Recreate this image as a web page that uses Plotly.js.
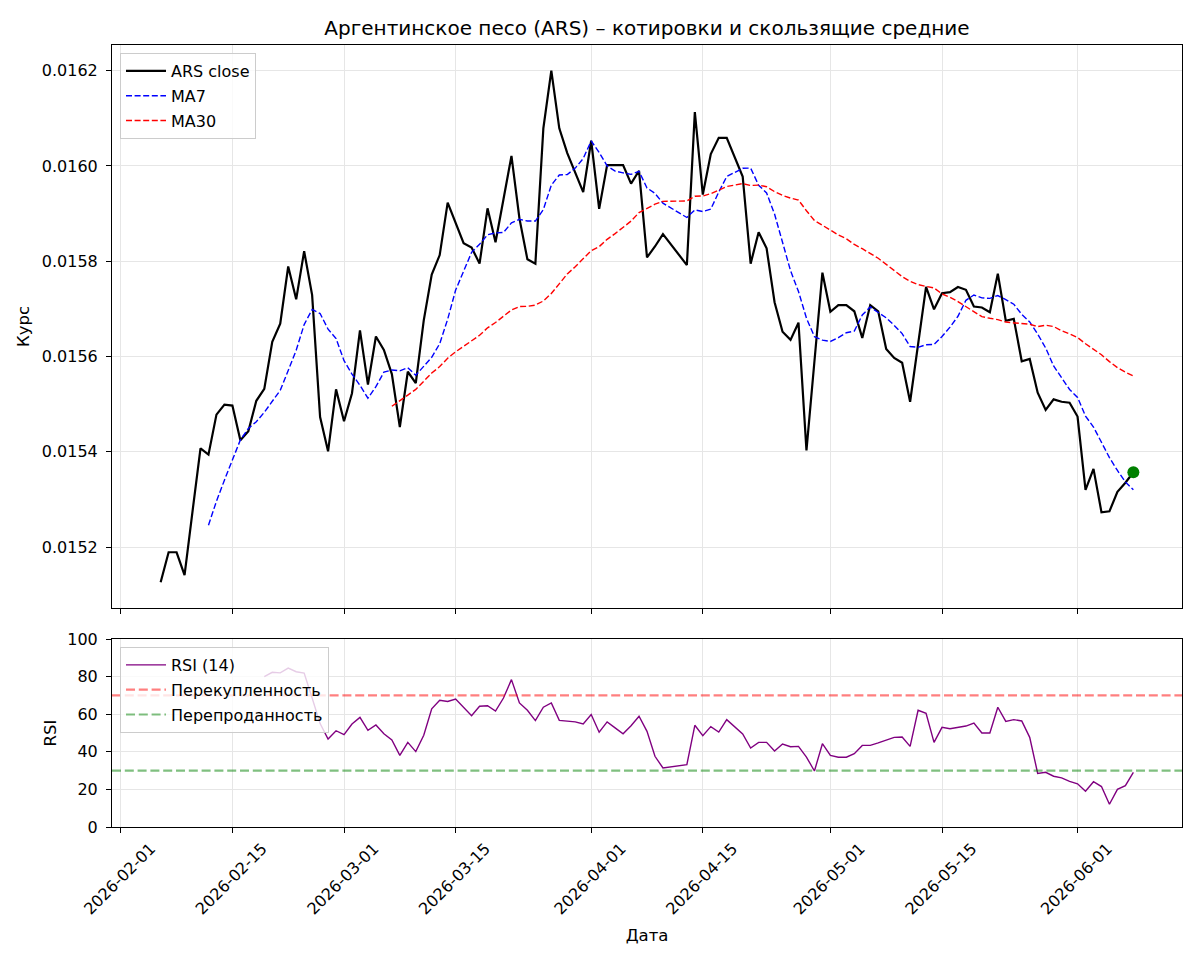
<!DOCTYPE html>
<html>
<head>
<meta charset="utf-8">
<script src="https://cdn.plot.ly/plotly-3.0.1.min.js"></script>
<style>
  body { margin: 0; background: #fff; }
  #chart { width: 1200px; height: 960px; }
</style>
</head>
<body>
<div id="chart"></div>
<script>
// daily ARS quotes from 2026-02-06 to 2026-06-08, a few days have no quote
var startDate = '2026-02-06';
var endDate = '2026-06-08';
var missingDays = ['2026-04-11', '2026-04-12', '2026-04-19'];

var closeFeb = [0.015126, 0.015189, 0.015189, 0.015141, 0.015275, 0.015407, 0.015394, 0.015478,
  0.015499, 0.015497, 0.015424, 0.015443, 0.015507, 0.015532, 0.015631, 0.015669, 0.015789,
  0.015720, 0.015821, 0.015729, 0.015473, 0.015401, 0.015531];
var closeMar = [0.015464, 0.015523, 0.015655, 0.015541, 0.015642, 0.015614, 0.015563, 0.015452,
  0.015568, 0.015544, 0.015676, 0.015772, 0.015813, 0.015923, 0.015880, 0.015838, 0.015829,
  0.015795, 0.015911, 0.015840, 0.015930, 0.016021, 0.015890, 0.015804, 0.015795, 0.016079,
  0.016200, 0.016079, 0.016027, 0.015985, 0.015945];
var closeApr = [0.016053, 0.015910, 0.016002, 0.016002, 0.016002, 0.015963, 0.015990, 0.015808,
  0.015831, 0.015857, 0.015792, 0.016113, 0.015940, 0.016025, 0.016059, 0.016059,
  0.015978, 0.015795, 0.015861, 0.015827, 0.015714, 0.015652, 0.015635,
  0.015671, 0.015403, 0.015590, 0.015776];
var closeMay = [0.015694, 0.015708, 0.015708, 0.015695, 0.015639, 0.015708, 0.015695, 0.015616,
  0.015597, 0.015587, 0.015505, 0.015627, 0.015746, 0.015699, 0.015733, 0.015735, 0.015746,
  0.015740, 0.015705, 0.015703, 0.015693, 0.015774, 0.015675, 0.015679, 0.015590, 0.015595,
  0.015524, 0.015488, 0.015510, 0.015505, 0.015503];
var closeJun = [0.015474, 0.015320, 0.015364, 0.015273, 0.015275, 0.015316, 0.015335, 0.015357];

// RSI(14) as drawn, starting at the 14th quote (2026-02-19)
var rsiStart = 13;
var rsiFeb = [80.0, 82.3, 82.0, 84.5, 82.6, 81.9, 68.6, 55.0, 46.8, 51.2];
var rsiMar = [49.1, 54.8, 58.3, 51.4, 54.3, 49.6, 46.3, 38.1, 45.0, 40.1, 48.8, 62.9, 67.4, 66.8,
  68.1, 63.7, 59.2, 64.2, 64.5, 61.7, 68.6, 78.4, 66.0, 62.1, 56.6, 63.7, 66.0, 56.7, 56.4, 55.9, 54.8];
var rsiApr = [59.8, 50.4, 55.9, 52.7, 49.6, 53.9, 58.9, 50.9, 37.6, 31.4, 33.2, 54.1,
  48.6, 53.4, 50.5, 57.1, 49.5, 42.0, 45.0, 45.0, 40.4, 44.1, 42.7, 42.9, 37.2, 29.8, 44.3];
var rsiMay = [38.1, 37.1, 37.1, 39.0, 43.4, 43.4, 44.7, 46.1, 47.7, 47.9, 42.9, 62.1, 60.5, 45.0,
  53.0, 52.3, 53.2, 53.7, 55.3, 50.0, 50.0, 63.7, 56.2, 57.1, 56.4, 47.7, 28.5, 29.1, 27.0, 26.1, 24.3];
var rsiJun = [23.0, 19.0, 24.1, 21.5, 12.1, 20.0, 22.0, 29.1];

var overbought = 70;
var oversold = 30;

var tickDates = ['2026-02-01', '2026-02-15', '2026-03-01', '2026-03-15', '2026-04-01',
  '2026-04-15', '2026-05-01', '2026-05-15', '2026-06-01'];

var close = closeFeb.concat(closeMar, closeApr, closeMay, closeJun);
var rsi = rsiFeb.concat(rsiMar, rsiApr, rsiMay, rsiJun);

// calendar days with a quote
var dates = [];
var t = new Date(startDate + 'T00:00:00Z').getTime();
var tEnd = new Date(endDate + 'T00:00:00Z').getTime();
while (t <= tEnd) {
  var ds = new Date(t).toISOString().slice(0, 10);
  if (missingDays.indexOf(ds) < 0) dates.push(ds);
  t += 86400000;
}

function rollingMean(arr, n) {
  return arr.map(function (v, i) {
    if (i < n - 1) return null;
    var s = 0;
    for (let k = i - n + 1; k <= i; k++) s += arr[k];
    return s / n;
  });
}

var ma7 = rollingMean(close, 7);
var ma30 = rollingMean(close, 30);

var font = 'DejaVu Sans, sans-serif';

var traceClose = {
  x: dates, y: close, type: 'scatter', mode: 'lines', name: 'ARS close',
  line: { color: 'black', width: 2.2 }, legend: 'legend', legendgroup: 'c'
};
var traceMa7 = {
  x: dates, y: ma7, type: 'scatter', mode: 'lines', name: 'MA7',
  line: { color: 'blue', width: 1.4, dash: '6px,2.6px' }, legend: 'legend', legendgroup: 'm7'
};
var traceMa30 = {
  x: dates, y: ma30, type: 'scatter', mode: 'lines', name: 'MA30',
  line: { color: 'red', width: 1.4, dash: '6px,2.6px' }, legend: 'legend', legendgroup: 'm30'
};
var traceLast = {
  x: [dates[dates.length - 1]], y: [close[close.length - 1]], type: 'scatter', mode: 'markers',
  marker: { color: 'green', size: 12 }, showlegend: false
};
var traceRsi = {
  x: dates.slice(rsiStart), y: rsi, type: 'scatter', mode: 'lines', name: 'RSI (14)',
  line: { color: 'purple', width: 1.4 }, xaxis: 'x2', yaxis: 'y2',
  legend: 'legend2', legendgroup: 'r'
};

var xRange = ['2026-01-30 21:36', '2026-06-14 02:24'];
var axisCommon = {
  showline: true, linecolor: 'black', linewidth: 1, mirror: true,
  ticks: 'outside', ticklen: 5, tickcolor: 'black', tickwidth: 1,
  showgrid: true, gridcolor: '#e6e6e6', gridwidth: 1, zeroline: false,
  tickfont: { family: font, size: 16, color: 'black' }
};
var labelFont = { family: font, size: 16.5, color: 'black' };
var legendCommon = {
  xanchor: 'left', yanchor: 'top', itemwidth: 40, tracegroupgap: 1,
  bgcolor: 'rgba(255,255,255,0.8)', bordercolor: '#cccccc', borderwidth: 1,
  font: { family: font, size: 16, color: 'black' }
};

var layout = {
  width: 1200, height: 960,
  margin: { l: 0, r: 0, t: 0, b: 0 },
  paper_bgcolor: 'white', plot_bgcolor: 'white',
  font: { family: font, size: 16, color: 'black' },
  showlegend: true,
  title: {
    text: 'Аргентинское песо (ARS) – котировки и скользящие средние',
    font: { family: font, size: 20, color: 'black' },
    x: 647 / 1200, xanchor: 'center', y: 1 - 28 / 960, yanchor: 'middle'
  },
  xaxis: Object.assign({}, axisCommon, {
    domain: [112 / 1200, 1182 / 1200], anchor: 'y', type: 'date', range: xRange,
    tickvals: tickDates, showticklabels: false
  }),
  yaxis: Object.assign({}, axisCommon, {
    domain: [1 - 608 / 960, 1 - 45 / 960], anchor: 'x',
    range: [0.015072, 0.016254], tick0: 0.0152, dtick: 0.0002, tickformat: '.4f',
    ticklabelstandoff: 5,
    title: { text: 'Курс', font: labelFont, standoff: 8 }
  }),
  xaxis2: Object.assign({}, axisCommon, {
    domain: [112 / 1200, 1182 / 1200], anchor: 'y2', type: 'date', range: xRange,
    tickvals: tickDates, ticktext: tickDates, tickangle: -45, ticklabelshift: 30,
    title: { text: 'Дата', font: labelFont, standoff: 12 }
  }),
  yaxis2: Object.assign({}, axisCommon, {
    domain: [1 - 827 / 960, 1 - 639 / 960], anchor: 'x2',
    range: [0, 100], tick0: 0, dtick: 20, ticklabelstandoff: 5,
    title: { text: 'RSI', font: labelFont, standoff: 6 }
  }),
  legend: Object.assign({}, legendCommon, { x: 120 / 1200, y: 1 - 53 / 960 }),
  legend2: Object.assign({}, legendCommon, { x: 120 / 1200, y: 1 - 647 / 960 }),
  shapes: [
    {
      type: 'line', xref: 'x2 domain', x0: 0, x1: 1, yref: 'y2', y0: overbought, y1: overbought,
      line: { color: 'rgba(255,0,0,0.5)', width: 2.2, dash: '9px,3.8px' },
      showlegend: true, name: 'Перекупленность', legend: 'legend2', legendgroup: 'ob'
    },
    {
      type: 'line', xref: 'x2 domain', x0: 0, x1: 1, yref: 'y2', y0: oversold, y1: oversold,
      line: { color: 'rgba(0,128,0,0.5)', width: 2.2, dash: '9px,3.8px' },
      showlegend: true, name: 'Перепроданность', legend: 'legend2', legendgroup: 'os'
    }
  ]
};

Plotly.newPlot('chart', [traceClose, traceMa7, traceMa30, traceLast, traceRsi], layout,
  { staticPlot: true });
</script>
</body>
</html>
